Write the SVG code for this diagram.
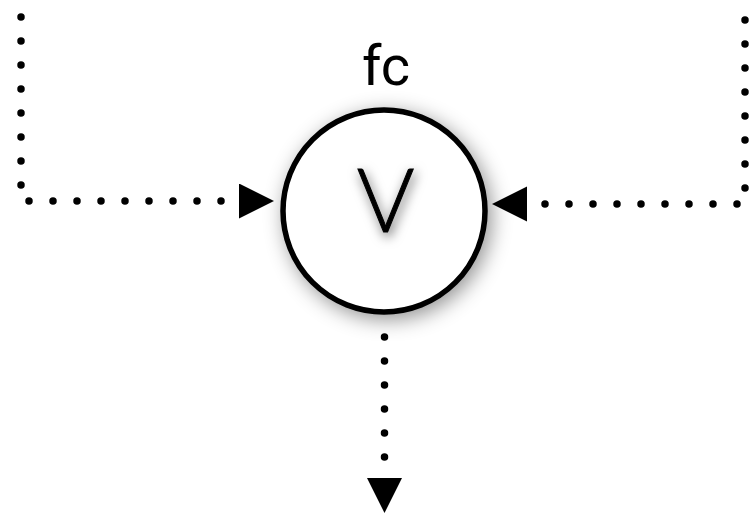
<svg xmlns="http://www.w3.org/2000/svg" width="751" height="515" viewBox="0 0 751 515">
  <defs>
    <filter id="shadow" x="-40%" y="-40%" width="180%" height="180%">
      <feDropShadow dx="4" dy="5" stdDeviation="10" flood-color="#000" flood-opacity="0.42"/>
    </filter>
    <filter id="tshadow" x="-50%" y="-50%" width="200%" height="200%">
      <feDropShadow dx="2" dy="4" stdDeviation="6" flood-color="#000" flood-opacity="0.6"/>
    </filter>
    <marker id="arrow" markerUnits="userSpaceOnUse" markerWidth="36" markerHeight="36" refX="0" refY="17.5" orient="auto" viewBox="0 0 36 36">
      <path d="M0,0 L35,17.5 L0,35 Z" fill="#000"/>
    </marker>
  </defs>
  <style>
    .conn { fill: none; stroke: #000; stroke-width: 7.5; stroke-linecap: round; stroke-dasharray: 0 24; marker-end: url(#arrow); }
    .label { font-family: Roboto, "Liberation Sans", sans-serif; fill: #000; }
  </style>
  <rect width="751" height="515" fill="#fff"/>
  <g id="connectors">
    <path class="conn" d="M21,17 V201 H239"/>
    <path class="conn" d="M745,20 V204 H527"/>
    <path class="conn" d="M384.5,337 V478"/>
  </g>
  <g id="fc">
    <circle cx="384" cy="211" r="101" fill="#fff" stroke="#000" stroke-width="5.5" filter="url(#shadow)"/>
    <text class="label" x="386" y="85" font-size="56" text-anchor="middle">fc</text>
    <text x="385.5" y="232" font-family="Lato, Roboto, sans-serif" font-weight="300" font-size="88" text-anchor="middle" fill="#000" stroke="#000" stroke-width="1" filter="url(#tshadow)">V</text>
  </g>
</svg>
